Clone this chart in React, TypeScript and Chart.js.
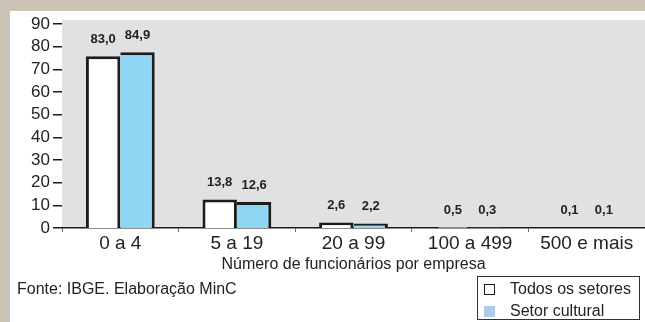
import React, { useEffect, useRef } from "react";
import { Chart, registerables } from "chart.js";

Chart.register(...registerables);

// ---- data ----
const categories = ["0 a 4", "5 a 19", "20 a 99", "100 a 499", "500 e mais"];
const todosSetores = [83.0, 13.8, 2.6, 0.5, 0.1];
const setorCultural = [84.9, 12.6, 2.2, 0.3, 0.1];
const seriesNames = ["Todos os setores", "Setor cultural"];
const yTickValues = [0, 10, 20, 30, 40, 50, 60, 70, 80, 90];
const xTitle = "Número de funcionários por empresa";
const sourceNote = "Fonte: IBGE. Elaboração MinC";

const FONT = "'Liberation Sans', Arial, Helvetica, sans-serif";
const BAR_BLUE = "#8fd6f5";
const LEGEND_BLUE = "#afcbea";
const INK = "#1c1c1c";

const fmt = (v: number) => v.toFixed(1).replace(".", ",");

const decor = {
  id: "decor",
  beforeDraw(chart: any) {
    const { ctx, chartArea: a, width, height } = chart;
    ctx.save();
    ctx.fillStyle = "#ffffff";
    ctx.fillRect(0, 0, width, height);
    ctx.fillStyle = "#cbc4b4";
    ctx.fillRect(0, 0, width, 11);
    ctx.fillRect(0, 0, 10, height);
    ctx.fillStyle = "#e1e1e3";
    ctx.fillRect(a.left, a.top, a.right - a.left, a.bottom - a.top);
    ctx.restore();
  },
  afterDatasetsDraw(chart: any) {
    const { ctx } = chart;
    ctx.save();
    ctx.font = `bold 13px ${FONT}`;
    ctx.fillStyle = "#222";
    ctx.textAlign = "center";
    ctx.textBaseline = "middle";
    chart.data.datasets.forEach((ds: any, di: number) => {
      const meta = chart.getDatasetMeta(di);
      meta.data.forEach((bar: any, i: number) => {
        ctx.fillText(fmt(ds.data[i]), bar.x, bar.y - 17);
      });
    });
    ctx.restore();
  },
  afterDraw(chart: any) {
    const { ctx, chartArea: a } = chart;
    ctx.save();
    ctx.fillStyle = "#222";
    ctx.textBaseline = "middle";
    // axis title
    ctx.font = `16px ${FONT}`;
    ctx.textAlign = "center";
    ctx.fillText(xTitle, (a.left + a.right) / 2, 265);
    // source
    ctx.textAlign = "left";
    ctx.fillText(sourceNote, 17, 290);
    // legend box
    ctx.strokeStyle = "#333";
    ctx.lineWidth = 1;
    ctx.strokeRect(477.5, 276.5, 162, 43);
    ctx.fillStyle = "#ffffff";
    ctx.fillRect(484, 284, 10, 10);
    ctx.strokeStyle = INK;
    ctx.strokeRect(484.5, 284.5, 10, 10);
    ctx.fillStyle = LEGEND_BLUE;
    ctx.fillRect(484, 306, 11, 11);
    ctx.fillStyle = "#222";
    ctx.font = `16px ${FONT}`;
    ctx.fillText(seriesNames[0], 510, 290);
    ctx.fillText(seriesNames[1], 510, 312);
    ctx.restore();
  },
};

export default function App() {
  const ref = useRef<HTMLCanvasElement>(null);

  useEffect(() => {
    if (!ref.current) return;
    const chart = new Chart(ref.current, {
      type: "bar",
      data: {
        labels: categories,
        datasets: [
          {
            label: seriesNames[0],
            data: todosSetores,
            backgroundColor: "#ffffff",
            borderColor: INK,
            borderWidth: { top: 3, left: 3, right: 3, bottom: 0 },
            borderSkipped: false,
            yAxisID: "yBars",
          },
          {
            label: seriesNames[1],
            data: setorCultural,
            backgroundColor: BAR_BLUE,
            borderColor: INK,
            borderWidth: { top: 3, left: 0, right: 3, bottom: 0 },
            borderSkipped: false,
            yAxisID: "yBars",
          },
        ],
      },
      options: {
        animation: false,
        responsive: false,
        maintainAspectRatio: false,
        layout: { padding: { left: 0, top: 20, right: 0, bottom: 62 } },
        categoryPercentage: 0.59,
        barPercentage: 1.0,
        plugins: {
          legend: { display: false },
          tooltip: { enabled: false },
        },
        scales: {
          x: {
            z: 1,
            border: { display: true, color: INK, width: 1.5 },
            grid: {
              display: true,
              drawOnChartArea: false,
              drawTicks: true,
              tickLength: 4,
              color: "#666",
              offset: true,
            },
            ticks: {
              font: { family: FONT, size: 19 },
              color: "#222",
              padding: 0,
              maxRotation: 0,
              autoSkip: false,
            },
            afterFit: (scale: any) => {
              scale.height = 32;
            },
          },
          y: {
            position: "left",
            min: 0,
            max: 91.8,
            border: { display: false },
            grid: {
              drawOnChartArea: false,
              drawTicks: true,
              tickLength: 9,
              color: INK,
              lineWidth: 1.5,
            },
            ticks: {
              font: { family: FONT, size: 17 },
              color: "#222",
              padding: 3,
              autoSkip: false,
            },
            afterBuildTicks: (scale: any) => {
              scale.ticks = yTickValues.map((v) => ({ value: v }));
            },
            afterFit: (scale: any) => {
              scale.width = 62;
            },
          },
          yBars: {
            display: false,
            min: 0,
            max: 100.5,
          },
        },
      },
      plugins: [decor],
    } as any);
    return () => chart.destroy();
  }, []);

  return (
    <div style={{ position: "absolute", left: 0, top: 0, width: 645, height: 322 }}>
      <canvas ref={ref} width={645} height={322} style={{ display: "block" }} />
    </div>
  );
}
